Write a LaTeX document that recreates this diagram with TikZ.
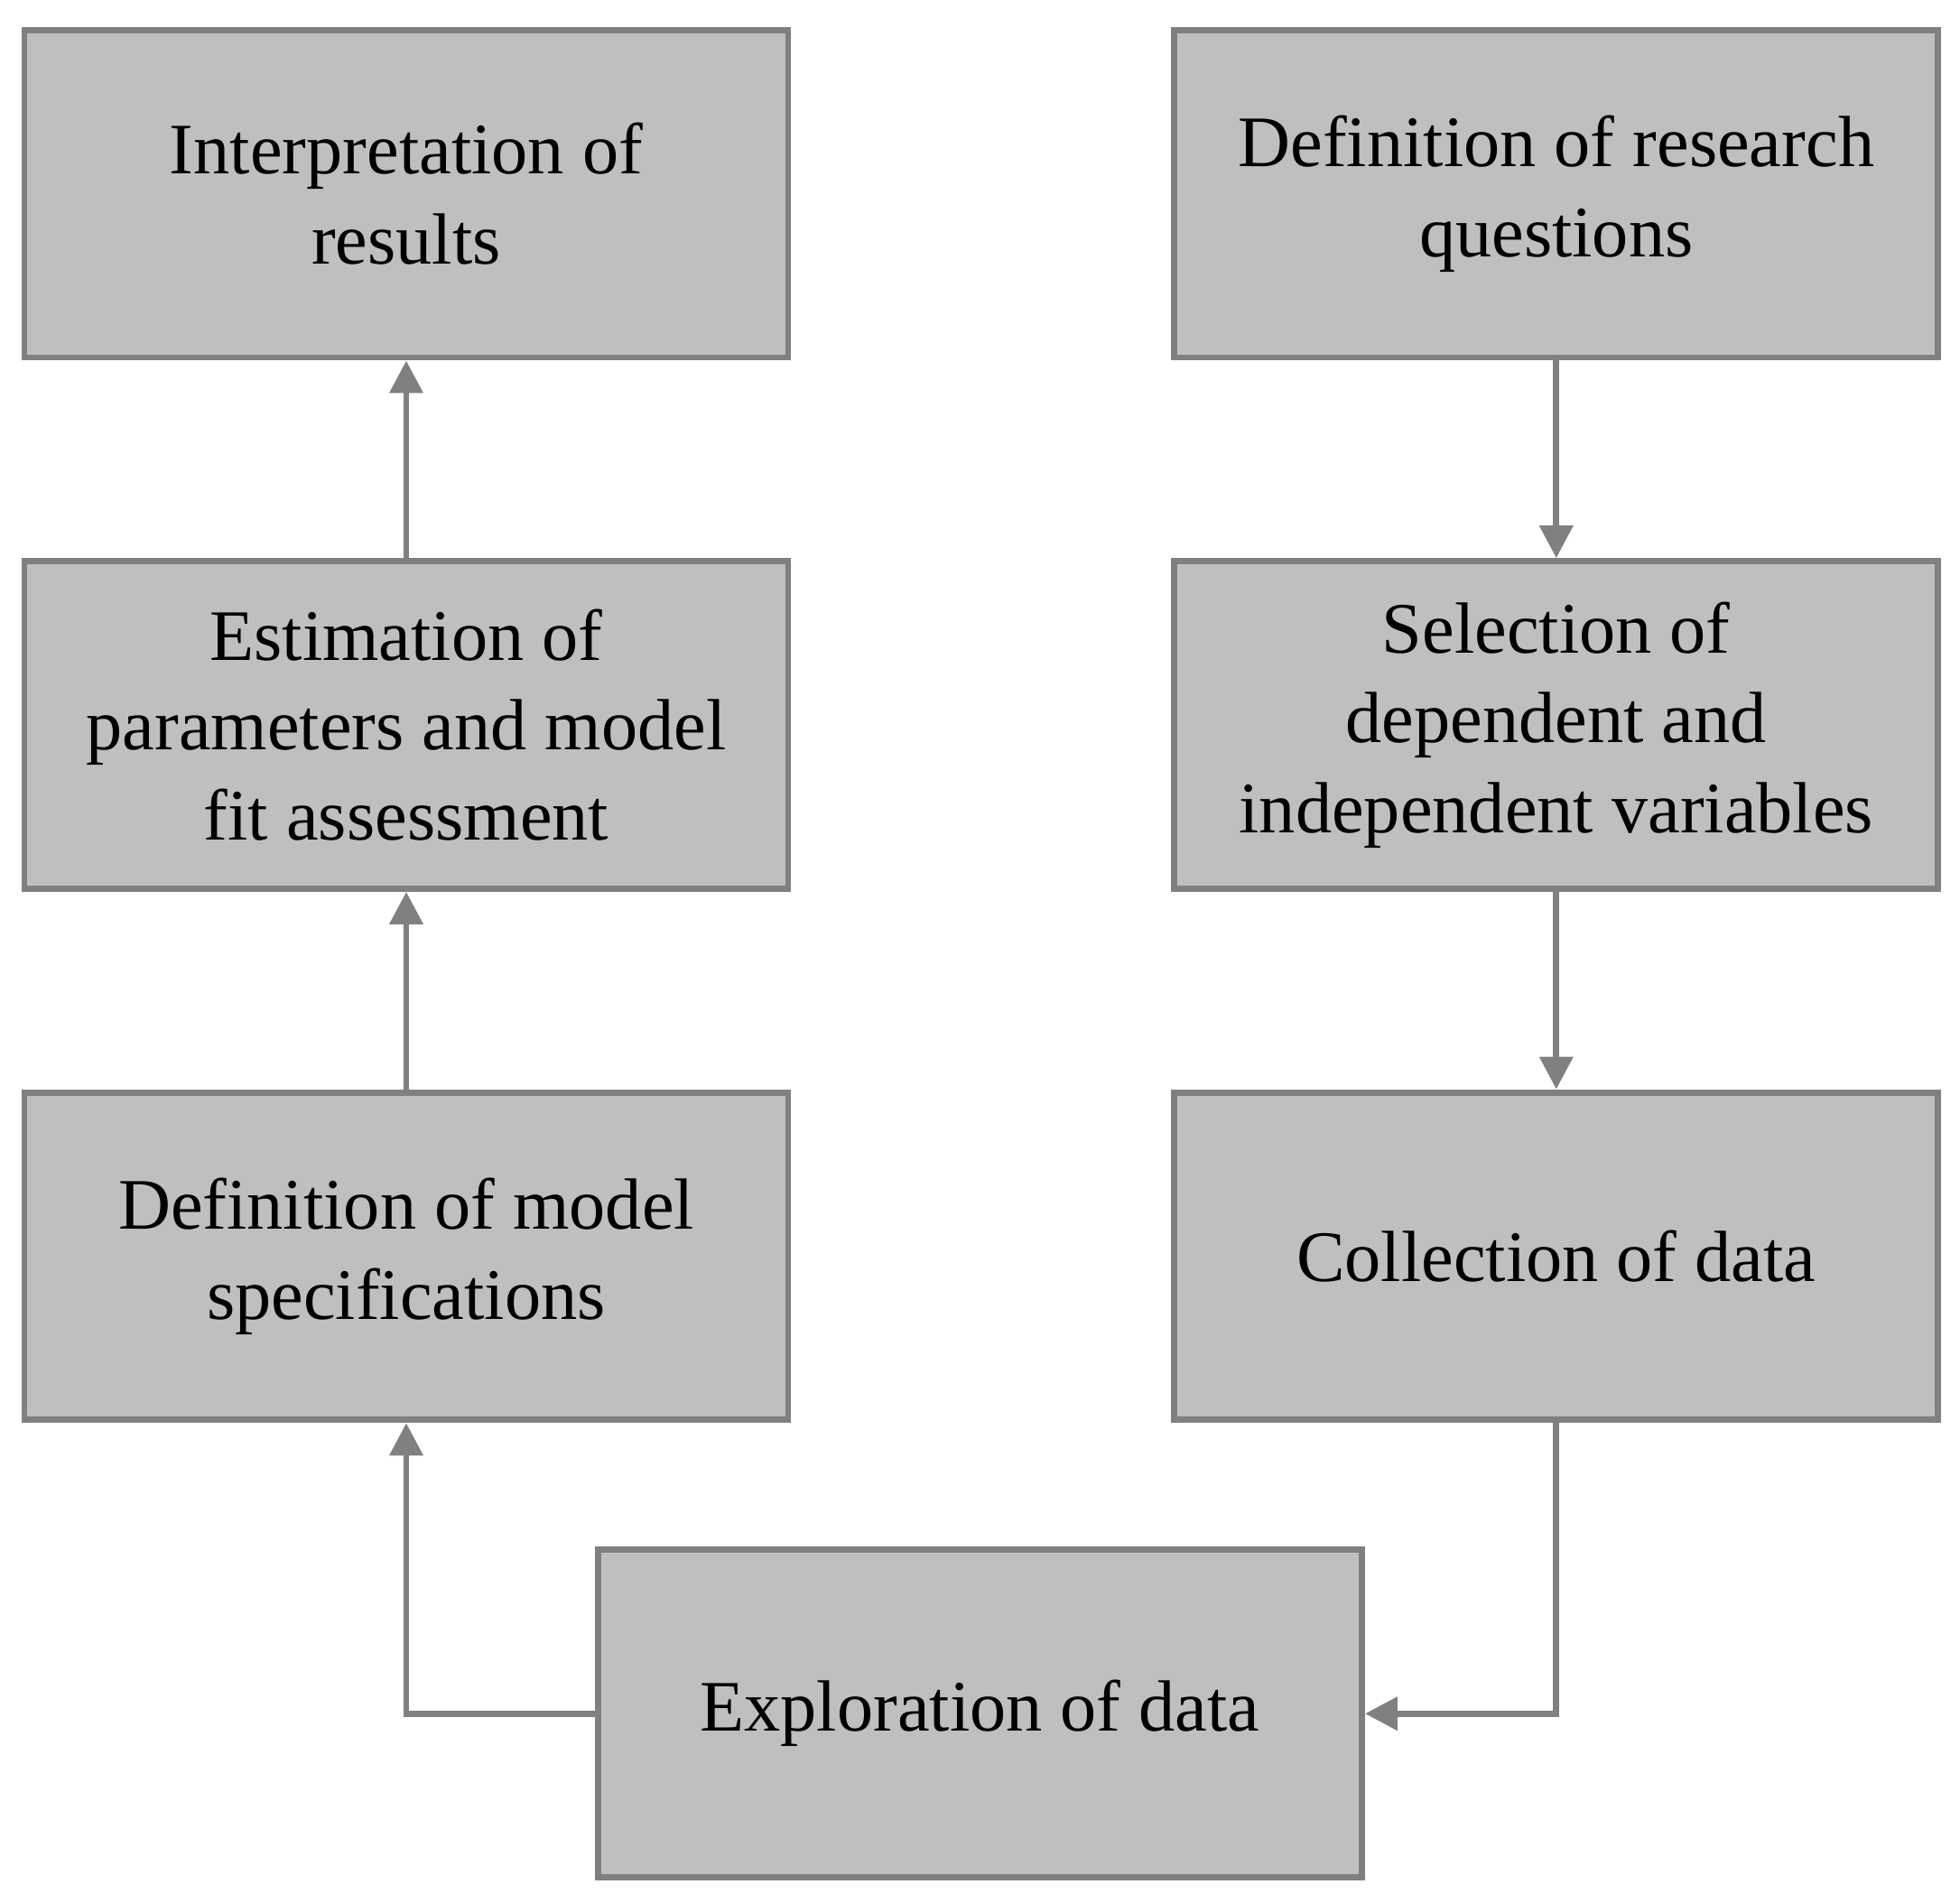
\documentclass[tikz,border=0pt]{standalone}
\usepackage{fontspec}
\setmainfont{Liberation Serif}
\usetikzlibrary{arrows.meta}
\definecolor{boxfill}{HTML}{BFBFBF}
\definecolor{edge}{HTML}{808080}
\begin{document}
\begin{tikzpicture}[x=1pt,y=-1pt,
  box/.style={draw=edge,fill=boxfill,line width=5pt,minimum width=611pt,minimum height=262pt,align=center,inner sep=0pt,font=\fontsize{58}{72}\selectfont},
  arr/.style={draw=edge,line width=5pt,-{Triangle[length=26pt,width=26pt]}}]
\useasboundingbox (0,0) rectangle (1568,1522);
\node[box] (interp) at (325,155) {Interpretation of\\results};
\node[box] (est) at (325,580) {Estimation of\\parameters and model\\fit assessment};
\node[box] (defm) at (325,1005) {Definition of model\\specifications};
\node[box] (defr) at (1245,155) {Definition of research\\questions};
\node[box] (sel) at (1245,580) {Selection of\\dependent and\\independent variables};
\node[box] (coll) at (1245,1005) {Collection of data};
\node[box] (expl) at (784,1371) {Exploration of data};
\draw[arr] (defr) -- (sel);
\draw[arr] (sel) -- (coll);
\draw[arr] (coll.south) |- (expl.east);
\draw[arr] (expl.west) -| (defm.south);
\draw[arr] (defm) -- (est);
\draw[arr] (est) -- (interp);
\end{tikzpicture}
\end{document}
